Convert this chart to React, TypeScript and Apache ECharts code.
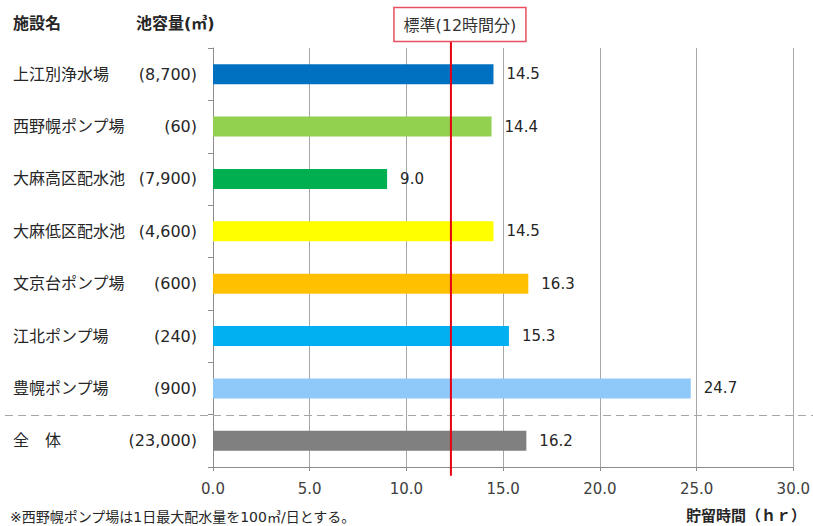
import React, { useEffect, useRef } from "react";
import * as echarts from "echarts";

const names = ["上江別浄水場", "西野幌ポンプ場", "大麻高区配水池", "大麻低区配水池", "文京台ポンプ場", "江北ポンプ場", "豊幌ポンプ場", "全　体"];
const capacities = ["(8,700)", "(60)", "(7,900)", "(4,600)", "(600)", "(240)", "(900)", "(23,000)"];
const hours = [14.5, 14.4, 9.0, 14.5, 16.3, 15.3, 24.7, 16.2];
const barColors = ["#0070C0", "#92D050", "#00B050", "#FFFF00", "#FFC000", "#00B0F0", "#8FC9F9", "#808080"];
const xMin = 0;
const xMax = 30;
const xInterval = 5;
const standardHours = 12.3;
const standardLabel = "標準(12時間分)";
const headerName = "施設名";
const headerCapacity = "池容量(㎥)";
const xAxisTitle = "貯留時間（ｈｒ）";
const footnote = "※西野幌ポンプ場は1日最大配水量を100㎥/日とする。";

const FONT = "'DejaVu Sans', 'Noto Sans CJK JP', sans-serif";

export default function App() {
  const ref = useRef<HTMLDivElement>(null);
  useEffect(() => {
    if (!ref.current) return;
    const chart = echarts.init(ref.current, null, { renderer: "svg" });
    chart.setOption({
      animation: false,
      backgroundColor: "#ffffff",
      textStyle: { fontFamily: FONT },
      grid: { left: 213, right: 16, top: 48, bottom: 59, containLabel: false },
      xAxis: {
        type: "value",
        min: xMin,
        max: xMax,
        interval: xInterval,
        axisLine: { show: true, lineStyle: { color: "#8c8c8c", width: 1 } },
        axisTick: { show: true, length: 4, lineStyle: { color: "#8c8c8c" } },
        splitLine: { show: true, lineStyle: { color: "#a6a6a6", width: 1 } },
        axisLabel: {
          color: "#404040",
          fontSize: 15,
          fontFamily: FONT,
          margin: 14,
          formatter: (v: number) => v.toFixed(1),
        },
      },
      yAxis: {
        type: "category",
        inverse: true,
        data: names,
        axisLine: { show: true, lineStyle: { color: "#8c8c8c", width: 1 } },
        axisTick: { show: true, length: 5, inside: false, lineStyle: { color: "#8c8c8c" } },
        axisLabel: {
          align: "left",
          margin: 200,
          color: "#262626",
          fontFamily: FONT,
          fontSize: 16,
          formatter: (v: string, i: number) => `{n|${v}}{c|${capacities[i]}}`,
          rich: {
            n: { width: 120, align: "left", fontSize: 16, fontFamily: FONT, color: "#262626" },
            c: { width: 64, align: "right", fontSize: 16, fontFamily: FONT, color: "#262626" },
          },
        },
      },
      series: [
        {
          type: "bar",
          barWidth: 20,
          data: hours.map((v, i) => ({ value: v, itemStyle: { color: barColors[i] } })),
          label: {
            show: true,
            position: "right",
            distance: 13,
            color: "#262626",
            fontSize: 15,
            fontFamily: FONT,
            formatter: (p: any) => Number(p.value).toFixed(1),
          },
        },
      ],
    });

    const lineX = chart.convertToPixel({ xAxisIndex: 0 }, standardHours) as number;
    const y6 = chart.convertToPixel({ yAxisIndex: 0 }, names[6]) as number;
    const y7 = chart.convertToPixel({ yAxisIndex: 0 }, names[7]) as number;
    const sepY = Math.round((y6 + y7) / 2) + 0.5;

    chart.setOption({
      graphic: [
        {
          type: "line",
          shape: { x1: 5, y1: sepY, x2: 813, y2: sepY },
          style: { stroke: "#a6a6a6", lineWidth: 1, lineDash: [8, 5] },
          z: 10,
        },
        {
          type: "line",
          shape: { x1: lineX, y1: 41, x2: lineX, y2: y7 + 35 },
          style: { stroke: "#e60012", lineWidth: 2 },
          z: 20,
        },
        {
          type: "rect",
          shape: { x: lineX - 57, y: 7.5, width: 132, height: 34 },
          style: { fill: "#ffffff", stroke: "#e8505f", lineWidth: 1.5 },
          z: 20,
        },
        {
          type: "text",
          x: lineX + 9,
          y: 25,
          style: {
            text: standardLabel,
            fill: "#333333",
            fontSize: 16,
            fontFamily: FONT,
            align: "center",
            verticalAlign: "middle",
          },
          z: 21,
        },
        {
          type: "text",
          x: 13,
          y: 23,
          style: { text: headerName, fill: "#262626", fontSize: 16, fontWeight: "bold", fontFamily: FONT, verticalAlign: "middle" },
        },
        {
          type: "text",
          x: 136,
          y: 23,
          style: { text: headerCapacity, fill: "#262626", fontSize: 16, fontWeight: "bold", fontFamily: FONT, verticalAlign: "middle" },
        },
        {
          type: "text",
          x: 806,
          y: 516,
          style: { text: xAxisTitle, fill: "#262626", fontSize: 15, fontWeight: "bold", fontFamily: FONT, align: "right", verticalAlign: "middle" },
        },
        {
          type: "text",
          x: 10,
          y: 517,
          style: { text: footnote, fill: "#262626", fontSize: 14, fontFamily: FONT, verticalAlign: "middle" },
        },
      ],
    });

    return () => chart.dispose();
  }, []);
  return <div ref={ref} style={{ width: 813, height: 526, position: "fixed", left: 0, top: 0 }} />;
}
